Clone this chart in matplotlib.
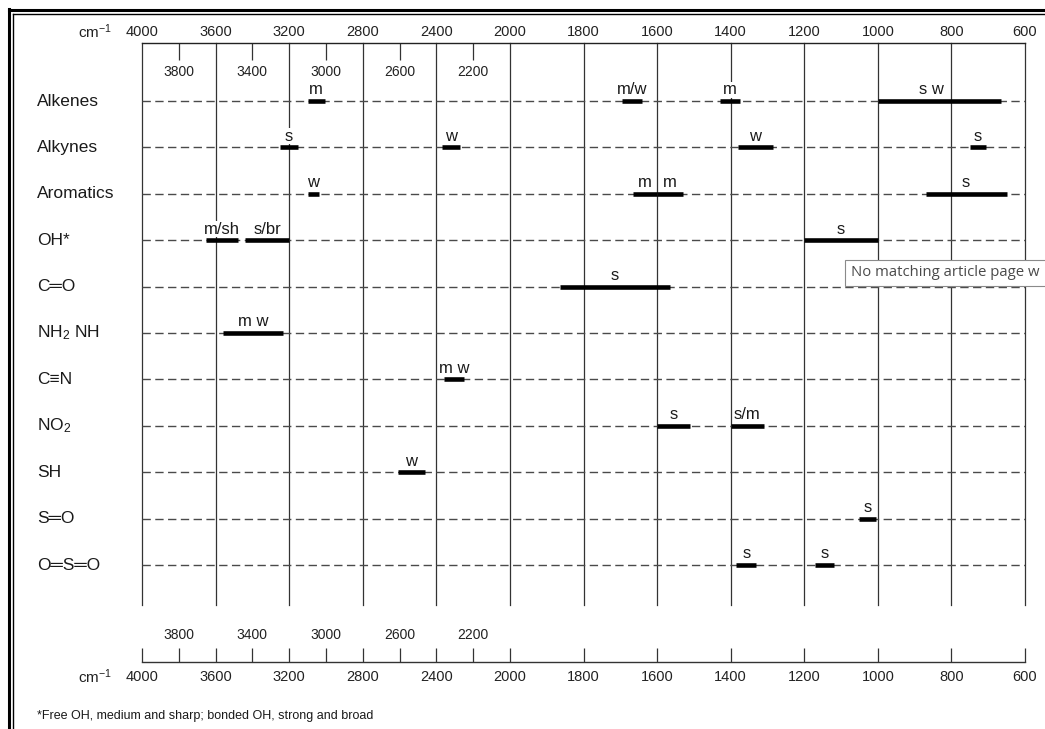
import numpy as np
import matplotlib
matplotlib.use('Agg')
import matplotlib.pyplot as plt
from matplotlib.patches import Rectangle
from matplotlib.lines import Line2D
from matplotlib.transforms import blended_transform_factory

# ---------------- data ----------------
groups = ['Alkenes', 'Alkynes', 'Aromatics', 'OH*', 'C═O', 'NH$_2$ NH',
          'C≡N', 'NO$_2$', 'SH', 'S═O', 'O═S═O']

band_row = [0, 0, 0, 0,
            1, 1, 1, 1,
            2, 2, 2, 2,
            3, 3, 3,
            4,
            5,
            6,
            7, 7,
            8,
            9,
            10, 10]
band_high = [3100, 1695, 1430, 1000,
             3250, 2370, 1380, 750,
             3100, 1665, 1600, 870,
             3650, 3440, 1200,
             1865,
             3560,
             2360,
             1600, 1400,
             2610,
             1050,
             1385, 1170]
band_low = [3005, 1640, 1375, 665,
            3150, 2270, 1285, 705,
            3040, 1600, 1530, 650,
            3480, 3200, 1000,
            1565,
            3235,
            2250,
            1510, 1310,
            2460,
            1005,
            1330, 1120]
band_label = ['m', 'm/w', 'm', 's w',
              's', 'w', 'w', 's',
              'w', 'm', 'm', 's',
              'm/sh', 's/br', 's',
              's',
              'm w',
              'm w',
              's', 's/m',
              'w',
              's',
              's', 's']
label_override = {3: 853}   # band index -> wavenumber where its label sits

major_ticks = [4000, 3600, 3200, 2800, 2400, 2000, 1800, 1600, 1400, 1200, 1000, 800, 600]
minor_ticks = [3800, 3400, 3000, 2600, 2200]
unit_label = 'cm$^{-1}$'
footnote = '*Free OH, medium and sharp; bonded OH, strong and broad'
tooltip = 'No matching article page w'

# ---------------- style ----------------
plt.rcParams['font.family'] = ['Liberation Sans', 'DejaVu Sans']
plt.rcParams['mathtext.fontset'] = 'custom'
plt.rcParams['mathtext.rm'] = 'Liberation Sans'
plt.rcParams['mathtext.it'] = 'Liberation Sans:italic'
plt.rcParams['mathtext.bf'] = 'Liberation Sans:bold'

W, H = 1045, 729
fx = lambda x: x / W
fy = lambda y: 1 - y / H


def fwd(v):
    v = np.asarray(v, dtype=float)
    return np.where(v >= 2000, 2000 + (v - 2000) / 2.0, v)


def inv(u):
    u = np.asarray(u, dtype=float)
    return np.where(u >= 2000, 2000 + (u - 2000) * 2.0, u)


fig = plt.figure(figsize=(W / 100, H / 100), dpi=100)
fig.patch.set_facecolor('white')

x0, x1 = 142, 1025
top_px, bot_px = 43, 605
row0_px, row_step = 101, 46.4

ax = fig.add_axes([fx(x0), fy(bot_px), (x1 - x0) / W, (bot_px - top_px) / H])
ax.set_xscale('function', functions=(fwd, inv))
ax.set_xlim(4000, 600)
ax.set_ylim(10 + (bot_px - 565) / row_step, -(row0_px - top_px) / row_step)
ax.set_facecolor('none')
for s in ['left', 'right', 'bottom']:
    ax.spines[s].set_visible(False)
ax.spines['top'].set_linewidth(1.0)
ax.spines['top'].set_color('#222222')

ax.set_xticks(major_ticks)
ax.set_xticklabels([str(t) for t in major_ticks])
ax.set_xticks(minor_ticks, minor=True)
ax.xaxis.set_minor_formatter(matplotlib.ticker.NullFormatter())
ax.tick_params(axis='x', which='major', length=0, pad=3, labelsize=10.5,
               top=True, bottom=False, labeltop=True, labelbottom=False,
               labelcolor='#222222')
ax.tick_params(axis='x', which='minor', direction='in', length=12, width=0.9,
               top=True, bottom=False, color='#333333')
ax.set_yticks([])

# secondary labels (top)
for t in minor_ticks:
    ax.text(t, (72 - row0_px) / row_step, str(t), ha='center', va='center',
            fontsize=10, color='#222222')

# vertical grid lines
for t in major_ticks:
    ax.axvline(t, color='#333333', lw=0.9, clip_on=False, zorder=1)

# dashed row lines
for i in range(len(groups)):
    ax.axhline(i, color='#4a4a4a', lw=1.0, dashes=(6, 3.2), zorder=1)

# group labels
trans = blended_transform_factory(fig.transFigure, ax.transData)
for i, g in enumerate(groups):
    ax.text(fx(37), i, g, transform=trans, ha='left', va='center',
            fontsize=12.5, color='#1a1a1a')

# bands
ax.hlines(band_row, band_high, band_low, colors='black', lw=3.3,
          capstyle='butt', zorder=3)
for k, (r, h, l, lab) in enumerate(zip(band_row, band_high, band_low, band_label)):
    if k in label_override:
        cx = label_override[k]
    else:
        cx = float(inv((fwd(h) + fwd(l)) / 2.0))
    ax.annotate(lab, (cx, r), xytext=(0, 4.8), textcoords='offset points',
                ha='center', va='baseline', fontsize=12, color='#1a1a1a',
                bbox=dict(fc='white', ec='none', pad=0.3), zorder=4)

# bottom axis
ax2 = fig.add_axes([fx(x0), fy(662), (x1 - x0) / W, 14 / H])
ax2.set_xscale('function', functions=(fwd, inv))
ax2.set_xlim(4000, 600)
ax2.set_facecolor('none')
for s in ['left', 'right', 'top']:
    ax2.spines[s].set_visible(False)
ax2.spines['bottom'].set_color('#333333')
ax2.spines['bottom'].set_linewidth(1.0)
ax2.set_yticks([])
ax2.set_xticks(major_ticks)
ax2.set_xticklabels([str(t) for t in major_ticks])
ax2.set_xticks(minor_ticks, minor=True)
ax2.xaxis.set_minor_formatter(matplotlib.ticker.NullFormatter())
ax2.tick_params(axis='x', which='both', direction='in', length=10, width=0.9,
                color='#333333', pad=6, labelsize=10.5, labelcolor='#222222')
for t in minor_ticks:
    ax2.text(t, (662 - 635) / 14, str(t), transform=ax2.get_xaxis_transform(),
             ha='center', va='center', fontsize=10, color='#222222')

# unit labels
fig.text(fx(112), fy(32), unit_label, ha='right', va='center', fontsize=11, color='#222222')
fig.text(fx(112), fy(677), unit_label, ha='right', va='center', fontsize=11, color='#222222')

# footnote
fig.text(fx(37), fy(716), footnote, ha='left', va='center', fontsize=9, color='#1a1a1a')

# frame (double border)
fig.add_artist(Line2D([fx(9.3)] * 2, [fy(9.3), 0], lw=2.2, color='black'))
fig.add_artist(Line2D([fx(12.7)] * 2, [fy(13.8), 0], lw=1.0, color='black'))
fig.add_artist(Line2D([fx(9.3), 1], [fy(10.3)] * 2, lw=2.2, color='black'))
fig.add_artist(Line2D([fx(12.7), 1], [fy(14)] * 2, lw=1.0, color='black'))

# tooltip overlay
fig.add_artist(Rectangle((fx(845), fy(286)), (1060 - 845) / W, 26 / H,
                         transform=fig.transFigure, fc='white', ec='#8a8a8a',
                         lw=0.8, zorder=10))
fig.text(fx(851), fy(273), tooltip, ha='left', va='center', fontsize=10.7,
         family=['Open Sans', 'DejaVu Sans'], color='#4a4a4a', zorder=11)

fig.savefig('out.png', dpi=100)
